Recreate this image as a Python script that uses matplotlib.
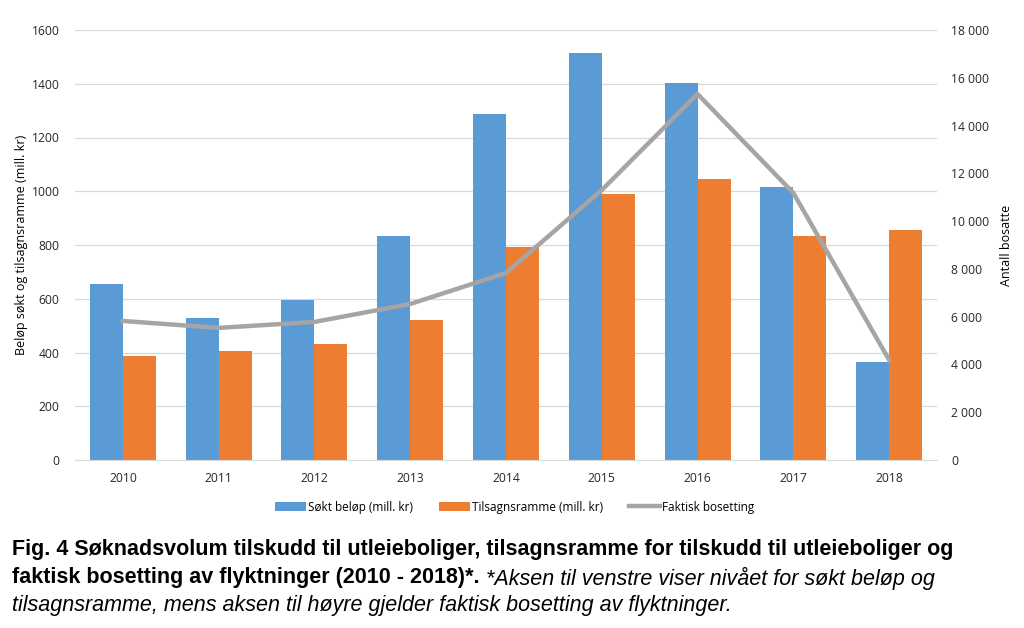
import matplotlib.pyplot as plt
import numpy as np
from matplotlib import font_manager

years = ['2010', '2011', '2012', '2013', '2014', '2015', '2016', '2017', '2018']
sokt = [655, 528, 595, 833, 1287, 1514, 1403, 1016, 365]
tilsagn = [387, 405, 432, 521, 793, 990, 1046, 833, 856]
bosetting = [5820, 5530, 5780, 6530, 7830, 11300, 15320, 11180, 4190]

blue = '#5B9BD5'
orange = '#ED7D31'
grey = '#A5A5A5'

names = {f.name for f in font_manager.fontManager.ttflist}
cap_font = 'Liberation Sans Narrow' if 'Liberation Sans Narrow' in names else 'Liberation Sans'
ax_font = 'Open Sans'

fig = plt.figure(figsize=(10.24, 6.28), dpi=100)
ax = fig.add_axes([75 / 1024, 1 - 460 / 628, 862 / 1024, 430 / 628])
ax2 = ax.twinx()

x = np.arange(len(years))
w = 0.345
ax.bar(x - w / 2, sokt, w, color=blue, label='Søkt beløp (mill. kr)', zorder=2)
ax.bar(x + w / 2, tilsagn, w, color=orange, label='Tilsagnsramme (mill. kr)', zorder=2)
ax2.plot(x, bosetting, color=grey, lw=3.2, label='Faktisk bosetting', zorder=3)

ax.set_xlim(-0.5, 8.5)
ax.set_ylim(0, 1600)
ax.set_yticks(range(0, 1601, 200))
ax2.set_ylim(0, 18000)
ax2.set_yticks(range(0, 18001, 2000))
ax2.set_yticklabels([f'{v:,}'.replace(',', ' ') for v in range(0, 18001, 2000)])
ax.set_xticks(x)
ax.set_xticklabels(years)

ax.grid(axis='y', color='#D9D9D9', lw=0.9, zorder=0)
ax.set_axisbelow(True)
for a in (ax, ax2):
    for s in a.spines.values():
        s.set_visible(False)
    a.tick_params(length=0, labelsize=8.7, colors='#262626')
    for lab in a.get_xticklabels() + a.get_yticklabels():
        lab.set_fontfamily(ax_font)
ax.spines['bottom'].set_visible(True)
ax.spines['bottom'].set_color('#D9D9D9')
ax.tick_params(axis='x', pad=9)
ax.tick_params(axis='y', pad=11)
ax2.tick_params(axis='y', pad=10)

ax.set_ylabel('Beløp søkt og tilsagnsramme (mill. kr)', fontsize=9, fontfamily=ax_font, labelpad=3)
ax2.set_ylabel('Antall bosatte', fontsize=9, fontfamily=ax_font, labelpad=8)

h1, l1 = ax.get_legend_handles_labels()
h2, l2 = ax2.get_legend_handles_labels()
fig.legend(h1 + h2, l1 + l2, loc='center', bbox_to_anchor=(515 / 1024, 1 - 507 / 628),
           ncol=3, frameon=False, prop={'family': ax_font, 'size': 8.5},
           handlelength=2.6, handleheight=0.8, handletextpad=0.2, columnspacing=2.2)

fig.text(12 / 1024, 1 - 549 / 628,
         'Fig. 4 Søknadsvolum tilskudd til utleieboliger, tilsagnsramme for tilskudd til utleieboliger og',
         fontsize=15.5, fontweight='bold', fontfamily=cap_font, va='center')
t = fig.text(12 / 1024, 1 - 578 / 628,
             'faktisk bosetting av flyktninger (2010 - 2018)*.',
             fontsize=15.5, fontweight='bold', fontfamily=cap_font, va='center')
fig.canvas.draw()
bb = t.get_window_extent()
fig.text((bb.x1 + 6) / 1024, 1 - 578 / 628,
         '*Aksen til venstre viser nivået for søkt beløp og',
         fontsize=15.5, style='italic', fontfamily=cap_font, va='center')
fig.text(12 / 1024, 1 - 606 / 628,
         'tilsagnsramme, mens aksen til høyre gjelder faktisk bosetting av flyktninger.',
         fontsize=15.5, style='italic', fontfamily=cap_font, va='center')

fig.savefig('out.png', dpi=100)
